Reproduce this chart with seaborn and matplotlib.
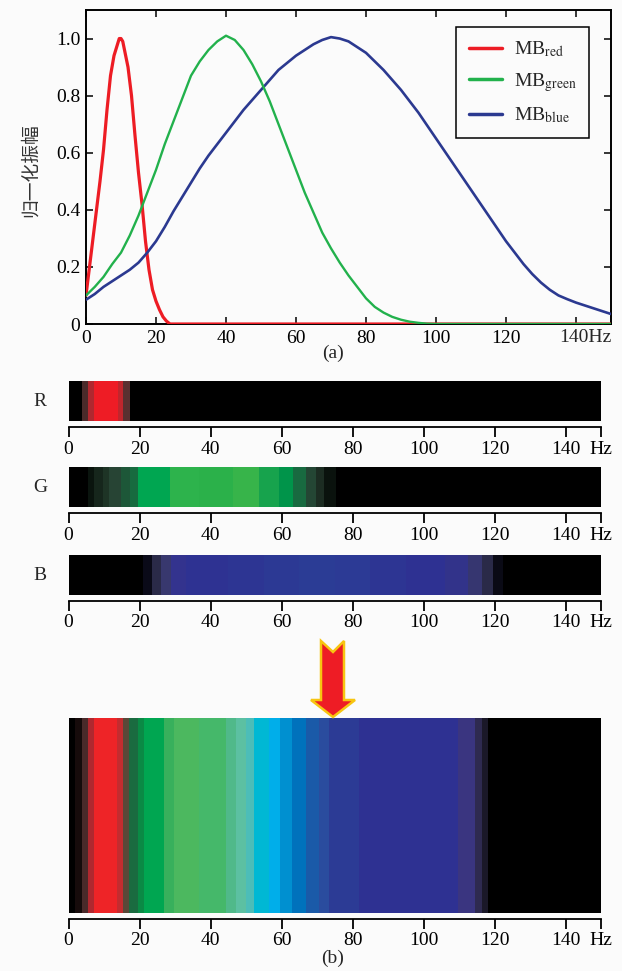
import numpy as np
import pandas as pd
import matplotlib
matplotlib.use("Agg")
import matplotlib.pyplot as plt
from matplotlib.colors import ListedColormap
from matplotlib.patches import Polygon
import seaborn as sns

# ---------------- data ----------------
red_hz = [0, 1, 2, 3, 4, 5, 6, 7, 8, 9, 9.5, 10, 10.5, 11, 12, 13, 14, 15, 16, 17, 18, 19, 20, 21, 22, 23, 24, 30, 60, 100, 150]
red_val = [0.10, 0.20, 0.30, 0.40, 0.50, 0.61, 0.75, 0.87, 0.94, 0.98, 1.00, 1.00, 0.99, 0.96, 0.90, 0.80, 0.66, 0.53, 0.42, 0.29, 0.19, 0.12, 0.08, 0.05, 0.025, 0.01, 0.0, 0.0, 0.0, 0.0, 0.0]

green_hz = [0, 2.5, 5, 7.5, 10, 12.5, 15, 17.5, 20, 22.5, 25, 27.5, 30, 32.5, 35, 37.5, 40, 42.5, 45, 47.5,
            50, 52.5, 55, 57.5, 60, 62.5, 65, 67.5, 70, 72.5, 75, 77.5, 80, 82.5, 85, 87.5, 90, 92.5, 95, 97.5, 100, 150]
green_val = [0.10, 0.13, 0.165, 0.21, 0.25, 0.31, 0.38, 0.46, 0.54, 0.63, 0.71, 0.79, 0.87, 0.92, 0.96, 0.99, 1.01, 0.995, 0.96, 0.91,
             0.85, 0.78, 0.70, 0.62, 0.54, 0.46, 0.39, 0.32, 0.265, 0.215, 0.17, 0.13, 0.09, 0.06, 0.04, 0.025, 0.015, 0.008, 0.004, 0.001, 0.0, 0.0]

blue_hz = [0, 2.5, 5, 7.5, 10, 12.5, 15, 17.5, 20, 22.5, 25, 27.5, 30, 32.5, 35, 37.5, 40, 42.5, 45, 47.5,
           50, 52.5, 55, 57.5, 60, 62.5, 65, 67.5, 70, 72.5, 75, 77.5, 80, 82.5, 85, 87.5, 90, 92.5, 95, 97.5,
           100, 102.5, 105, 107.5, 110, 112.5, 115, 117.5, 120, 122.5, 125, 127.5, 130, 132.5, 135, 137.5, 140, 142.5, 145, 147.5, 150]
blue_val = [0.085, 0.105, 0.13, 0.15, 0.17, 0.19, 0.215, 0.25, 0.29, 0.34, 0.395, 0.445, 0.495, 0.545, 0.59, 0.63, 0.67, 0.71, 0.75, 0.785,
            0.82, 0.855, 0.89, 0.915, 0.94, 0.96, 0.98, 0.995, 1.005, 1.0, 0.99, 0.97, 0.95, 0.92, 0.89, 0.855, 0.82, 0.78, 0.74, 0.695,
            0.65, 0.605, 0.56, 0.515, 0.47, 0.425, 0.38, 0.335, 0.29, 0.25, 0.21, 0.175, 0.145, 0.12, 0.10, 0.087, 0.075, 0.065, 0.055, 0.045, 0.035]

x_ticks = [0, 20, 40, 60, 80, 100, 120, 140]
x_ticklabels = ["0", "20", "40", "60", "80", "100", "120", ""]
x_end_label = "140Hz"
y_ticks = [0, 0.2, 0.4, 0.6, 0.8, 1.0]
y_ticklabels = ["0", "0.2", "0.4", "0.6", "0.8", "1.0"]
strip_ticks = [0, 20, 40, 60, 80, 100, 120, 140, 150]
strip_ticklabels = ["0", "20", "40", "60", "80", "100", "120", "140", "Hz"]

# colour bands of the strips (Hz edges, band colours)
R_edges = [0, 3.85, 5.45, 7.3, 13.9, 15.3, 17.4, 150]
R_colors = ['#000000', '#4a2a2a', '#b0282f', '#ee1c25', '#c0262d', '#5a3030', '#000000']

G_edges = [0, 5.4, 7.3, 9.7, 11.5, 14.8, 17.2, 19.5, 28.5, 36.9, 46.3, 53.8, 59.4, 63.2, 66.9, 69.8, 72.1, 75.4, 150]
G_colors = ['#000000', '#0a140e', '#16261c', '#1e3426', '#274434', '#1d5738', '#176b3f', '#00a651',
            '#2db34c', '#2bb14a', '#37b44a', '#17a34d', '#00944a', '#186a40', '#244634', '#1c2c22',
            '#0a120d', '#000000']

B_edges = [0, 21, 23.6, 26, 29, 33, 45, 55, 65, 75, 85, 95, 106, 112.5, 116.5, 119.5, 122.4, 150]
B_colors = ['#000000', '#0a0a18', '#2a2a48', '#38386e', '#33338e', '#2e3292', '#2d3593', '#2c3994',
            '#2b3c95', '#2c3a95', '#2d3593', '#2e3192', '#32338a', '#363670', '#2a2a48', '#0a0a15', '#000000']

C_edges = [0, 1.7, 3.8, 5.4, 7.3, 13.6, 15.3, 17.1, 19.5, 21.3, 27, 29.8, 36.8, 44.3, 47.1, 49.9,
           52.2, 56.5, 59.7, 63, 66.8, 70.5, 73.3, 81.7, 109.8, 114.5, 116.4, 118.3, 150]
C_colors = ['#000000', '#160b0b', '#4a2a2a', '#b0282f', '#ee2427', '#c42c2f', '#5a4838', '#1a6b40',
            '#0a8a45', '#00a651', '#38b05c', '#4cb85f', '#45b86a', '#50b98a', '#5cc0a2', '#4cbdb8',
            '#00b8d4', '#00aeea', '#0090d0', '#0072bc', '#1a5aa8', '#2a4c9e', '#2c3b95', '#2e3192',
            '#3a3580', '#2e2a50', '#1a1828', '#000000']

# ---------------- style ----------------
sns.set_theme(style="ticks")
plt.rcParams['font.family'] = ['Liberation Serif', 'Noto Sans CJK SC', 'DejaVu Sans']
plt.rcParams['mathtext.fontset'] = 'stix'
plt.rcParams['axes.edgecolor'] = 'black'
plt.rcParams['xtick.color'] = 'black'
plt.rcParams['ytick.color'] = 'black'

BG = '#fbfbfb'
W, H = 622, 971
fig = plt.figure(figsize=(W / 100, H / 100), dpi=100, facecolor=BG)


def rect(x0, y0, x1, y1):
    return [x0 / W, 1 - y1 / H, (x1 - x0) / W, (y1 - y0) / H]


# ---------------- panel (a) ----------------
ax = fig.add_axes(rect(86, 10, 611, 324))
ax.set_facecolor(BG)
df_r = pd.DataFrame({'Hz': red_hz, 'v': red_val})
df_g = pd.DataFrame({'Hz': green_hz, 'v': green_val})
df_b = pd.DataFrame({'Hz': blue_hz, 'v': blue_val})
c_red, c_green, c_blue = '#ed1c24', '#22b14c', '#2b3990'
sns.lineplot(data=df_r, x='Hz', y='v', ax=ax, color=c_red, lw=2.3, zorder=3, label=r'MB$_{\mathrm{red}}$')
sns.lineplot(data=df_b, x='Hz', y='v', ax=ax, color=c_blue, lw=1.9, zorder=4, label=r'MB$_{\mathrm{blue}}$')
sns.lineplot(data=df_g, x='Hz', y='v', ax=ax, color=c_green, lw=1.7, zorder=5, label=r'MB$_{\mathrm{green}}$')
ax.set_xlim(0, 150)
ax.set_ylim(0, 1.1)
ax.set_xlabel('')
ax.set_ylabel('归一化振幅', family=['Noto Sans CJK SC'], fontsize=13.5, color='#333333')
ax.yaxis.set_label_coords(-0.086, 0.49)
ax.set_xticks(x_ticks)
ax.set_xticklabels(x_ticklabels)
ax.set_yticks(y_ticks)
ax.set_yticklabels(y_ticklabels)
ax.tick_params(direction='in', length=5, width=1.1, top=True, right=True, labelsize=14, pad=4)
ax.text(1.0, -0.0165, x_end_label, transform=ax.transAxes, ha='right', va='top', fontsize=14)
for s in ax.spines.values():
    s.set_linewidth(1.4)
h, l = ax.get_legend_handles_labels()
order = [0, 2, 1]
leg = ax.legend([h[i] for i in order], [l[i] for i in order], loc='upper right',
                bbox_to_anchor=(589 / W, 1 - 27 / H), bbox_transform=fig.transFigure,
                borderaxespad=0, fontsize=14, frameon=True, fancybox=False, edgecolor='black',
                handlelength=1.7, handletextpad=0.6, labelspacing=0.6, borderpad=0.65)
leg.get_frame().set_linewidth(1.1)
leg.get_frame().set_facecolor(BG)
leg.get_frame().set_alpha(1)
for lh in leg.get_lines():
    lh.set_linewidth(2.5)
fig.text(333 / W, 1 - 353 / H, '(a)', ha='center', va='center', fontsize=14)


# ---------------- strips ----------------
def strip(box, edges, colors, label=None):
    a = fig.add_axes(rect(*box))
    n = len(colors)
    a.pcolormesh(edges, [0, 1], np.arange(n)[None, :], cmap=ListedColormap(colors),
                 vmin=-0.5, vmax=n - 0.5, shading='flat')
    a.set_xlim(0, 150)
    a.set_ylim(0, 1)
    for k in ['left', 'right', 'top']:
        a.spines[k].set_visible(False)
    a.spines['bottom'].set_position(('outward', 4))
    a.spines['bottom'].set_linewidth(1.3)
    a.set_yticks([])
    a.set_xticks(strip_ticks)
    a.set_xticklabels(strip_ticklabels)
    a.tick_params(axis='x', direction='out', length=7, width=1.3, labelsize=14, pad=3)
    if label:
        a.text(-0.0535, 0.5, label, transform=a.transAxes, ha='center', va='center', fontsize=14)
    return a


strip((68.5, 381.5, 601, 421.5), R_edges, R_colors, 'R')
strip((68.5, 467.5, 601, 507.5), G_edges, G_colors, 'G')
strip((68.5, 555, 601, 595), B_edges, B_colors, 'B')
strip((68.5, 718, 601, 913), C_edges, C_colors)

# arrow
pts_px = [(321, 641), (333, 652), (344, 641), (344, 700), (355, 700), (333, 717), (311, 700), (321, 700)]
pts = [(x / W, 1 - y / H) for x, y in pts_px]
fig.patches.append(Polygon(pts, closed=True, transform=fig.transFigure, facecolor='#ee1c25',
                           edgecolor='#f7c511', lw=1.8, joinstyle='miter'))

fig.text(333 / W, 1 - 958 / H, '(b)', ha='center', va='center', fontsize=14)

fig.savefig('out.png', dpi=100, facecolor=BG)
